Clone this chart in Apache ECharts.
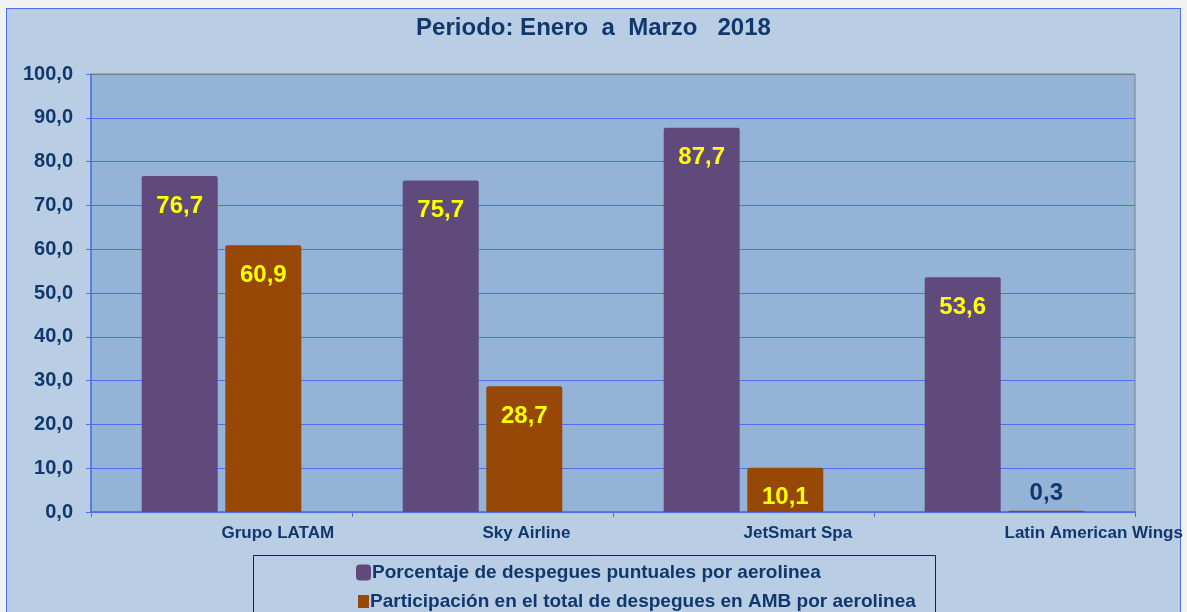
<!DOCTYPE html>
<html><head><meta charset="utf-8">
<script src="https://cdn.jsdelivr.net/npm/echarts@6/dist/echarts.min.js"></script>
<style>
html,body{margin:0;padding:0;background:#f2f2f2;width:1187px;height:612px;overflow:hidden;}
#frame{position:absolute;left:6px;top:8px;width:1175px;height:620px;border:1px solid #4a70f0;background:#b9cde5;box-sizing:border-box;}
#c{position:absolute;left:0;top:0;width:1187px;height:612px;}
</style></head><body>
<div id="frame"></div>
<div id="c"></div>
<script>
const categories = ['Grupo LATAM', 'Sky Airline', 'JetSmart Spa', 'Latin American Wings'];
const puntuales = [76.7, 75.7, 87.7, 53.6];
const participacion = [60.9, 28.7, 10.1, 0.3];
const seriesNames = ['Porcentaje de despegues puntuales por aerolinea', 'Participación en el total de despegues en AMB por aerolinea'];
const titleText = 'Periodo: Enero  a  Marzo   2018';

const navy = '#10386b';
const FF = 'Liberation Sans, Arial';
const fmt = v => v.toFixed(1).replace('.', ',');
const chart = echarts.init(document.getElementById('c'));
const labelInside = {show:true, position:'insideTop', distance:18, color:'#ffff00', fontWeight:'bold', fontSize:24, fontFamily:FF, formatter:p=>fmt(p.value)};
const legendText = {color:navy, fontSize:19, fontWeight:'bold', fontFamily:FF, padding:[0,0,0,-4]};
const gridColors = ['#4a70f0','#4a70f0','#4a70f0','#4a70f0','#4a70f0','#4a70f0','#4a70f0','#4a70f0','#4a70f0','#4a70f0','#7f7f7f'];
chart.setOption({
  backgroundColor:'transparent',
  title:{text:titleText, left:'center', top:11, textStyle:{color:navy, fontSize:24, fontWeight:'bold', fontFamily:FF}},
  grid:{left:91, right:52, top:74, bottom:100, show:true, backgroundColor:'#95b3d7', borderColor:'#7f7f7f', borderWidth:1},
  legend:[
    {left:351, top:558, itemWidth:15, itemHeight:16, textStyle:legendText, data:[{name:seriesNames[0], icon:'roundRect'}]},
    {left:353, top:587, itemWidth:11, itemHeight:13, textStyle:legendText, data:[{name:seriesNames[1], icon:'rect'}]}
  ],
  graphic:[{type:'rect', shape:{x:253.5, y:555.5, width:682, height:80}, style:{fill:'none', stroke:'#222', lineWidth:1}, silent:true}],
  xAxis:{type:'category', data:categories,
    axisLine:{lineStyle:{color:'#4a70f0', width:1.5}},
    axisTick:{show:true, length:5, lineStyle:{color:'#4a70f0'}},
    axisLabel:{align:'left', margin:13, color:navy, fontSize:17, fontWeight:'bold', fontFamily:FF, interval:0}},
  yAxis:{type:'value', min:0, max:100, interval:10,
    axisLine:{show:true, lineStyle:{color:'#4a70f0', width:1.5}},
    axisTick:{show:true, length:5, lineStyle:{color:'#4a70f0'}},
    axisLabel:{color:navy, fontSize:20, fontWeight:'bold', fontFamily:FF, margin:18, formatter:v=>fmt(v)},
    splitLine:{lineStyle:{color:gridColors, width:1}}},
  series:[
    {name:seriesNames[0], type:'bar', data:puntuales, barWidth:76, barGap:'10%',
      itemStyle:{color:'#604a7b', borderRadius:[2,2,0,0]}, label:labelInside},
    {name:seriesNames[1], type:'bar', data:participacion.map((v,i)=> i===3 ? {value:v, label:{position:'top', distance:5, color:navy}} : v), barWidth:76,
      itemStyle:{color:'#974806', borderRadius:[2,2,0,0]}, label:labelInside}
  ]
});
</script></body></html>
